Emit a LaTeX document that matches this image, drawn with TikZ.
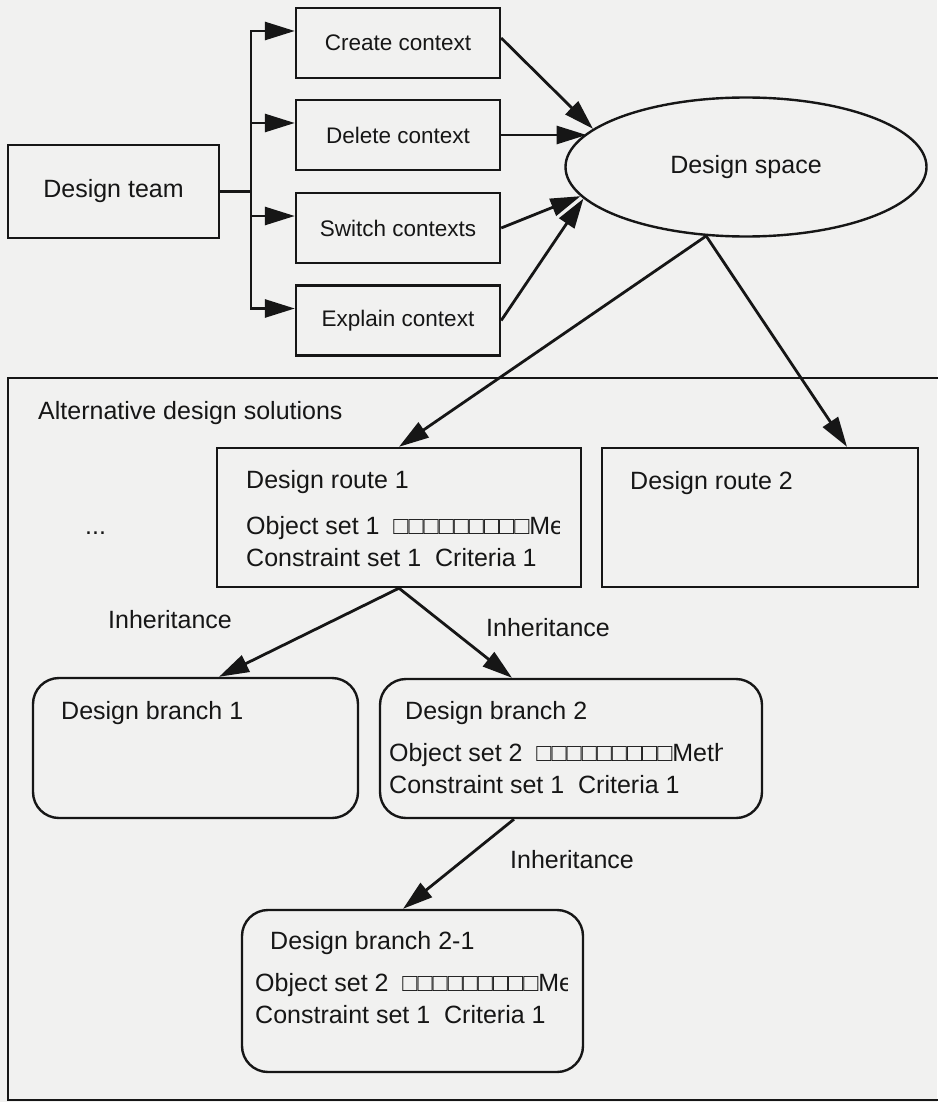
\documentclass[tikz,border=0pt]{standalone}
\usepackage{fontspec}
\setmainfont{Liberation Sans}
\usepackage{xcolor}
\usetikzlibrary{arrows.meta,positioning,shapes.geometric}

\definecolor{paper}{RGB}{241,241,240}
\definecolor{ink}{RGB}{22,22,22}

\begin{document}
\begin{tikzpicture}[
    x=1pt, y=-1pt,
    font=\fontsize{25}{30}\selectfont,
    box/.style={draw=ink, line width=2.4pt, inner sep=0pt, text=ink},
    ctx/.style={box, minimum width=204pt, minimum height=70pt, font=\fontsize{22.5}{27}\selectfont},
    route/.style={box, minimum height=139pt},
    branch/.style={box, rounded corners=26pt},
    txt/.style={anchor=west, inner sep=0pt, text=ink},
    arrow/.style={-{Triangle[length=30pt, width=18pt]}, line width=2.8pt, draw=ink}
]
\path[use as bounding box, fill=paper] (0,0) rectangle (937,1102);

% design team and the four context operations
\node[box, minimum width=211pt, minimum height=93pt] (team) at (113.5,191.5) {Design team\hspace{12pt}};
\node[ctx] (create) at (398,43) {Create context\hspace{10pt}};
\node[ctx] (delete) at (398,135) {Delete context\hspace{10pt}};
\node[ctx] (switch) at (398,228) {Switch contexts\hspace{6pt}};
\node[ctx] (explain) at (398,320.5) {Explain context\hspace{6pt}};
\node[box, ellipse, minimum width=361pt, minimum height=139pt] (space) at (746,167) {Design space};

\coordinate (fork) at (251,191.5);
\draw[draw=ink, line width=2.4pt] (team.east) -- (fork);
\foreach \n in {create,delete,switch,explain}
    \draw[arrow] (fork) |- ([yshift=12pt]\n.west);

\draw[arrow] ([yshift=5pt]create.east) -- (space.166);
\draw[arrow] (delete.east) -- (space.168 |- delete.east);
\draw[arrow] (switch.east) -- (space.190);
\draw[arrow] (explain.east) -- (space.191);

% alternative solutions frame
\draw[draw=ink, line width=2.6pt] (8,378) rectangle (990,1100);
\node[txt] (alt) at (38,413) {Alternative design solutions};
\node[txt] (more) at (85,533) {...};

% design routes
\node[route, minimum width=364pt] (route1) at (399,517.5) {};
\node[txt] (r1title) at (246,482) {Design route 1};
\begin{scope}
    \clip (route1.north west) rectangle (559,600);
    \node[txt] (r1obj) at (246,528) {Object set 1\ \ □□□□□□□□□Me};
\end{scope}
\node[txt] (r1con) at (246,558) {Constraint set 1\ \ Criteria 1};

\node[route, minimum width=316pt] (route2) at (760,517.5) {};
\node[txt] (r2title) at (630,483) {Design route 2};

\draw[arrow] (space.240) -- (route1.north);
\draw[arrow] (space.240) -- ([xshift=87pt]route2.north);

% design branches
\node[branch, minimum width=325pt, minimum height=140pt] (branch1) at (195.5,748) {};
\node[txt] (b1title) at (61,713) {Design branch 1};

\node[branch, minimum width=382pt, minimum height=139pt] (branch2) at (571,748.5) {};
\node[txt] (b2title) at (405,713) {Design branch 2};
\begin{scope}
    \clip (branch2.north west) rectangle (722,800);
    \node[txt] (b2obj) at (389,755) {Object set 2\ \ □□□□□□□□□Meth};
\end{scope}
\node[txt] (b2con) at (389,785) {Constraint set 1\ \ Criteria 1};

\node[text=ink] (inh1) at (170,620) {Inheritance};
\node[text=ink] (inh2) at (548,628) {Inheritance};
\draw[arrow] (route1.south) -- ([xshift=23.5pt]branch1.north);
\draw[arrow] (route1.south) -- ([xshift=-59pt]branch2.north);

\node[branch, minimum width=341pt, minimum height=162pt] (branch21) at (412.5,991) {};
\node[txt] (b21title) at (270,943) {Design branch 2-1};
\begin{scope}
    \clip (branch21.north west) rectangle (567,1050);
    \node[txt] (b21obj) at (255,985) {Object set 2\ \ □□□□□□□□□Me};
\end{scope}
\node[txt] (b21con) at (255,1015) {Constraint set 1\ \ Criteria 1};

\node[text=ink] (inh3) at (572,860) {Inheritance};
\draw[arrow] ([xshift=-57pt]branch2.south) -- ([xshift=-9.5pt]branch21.north);
\end{tikzpicture}
\end{document}
